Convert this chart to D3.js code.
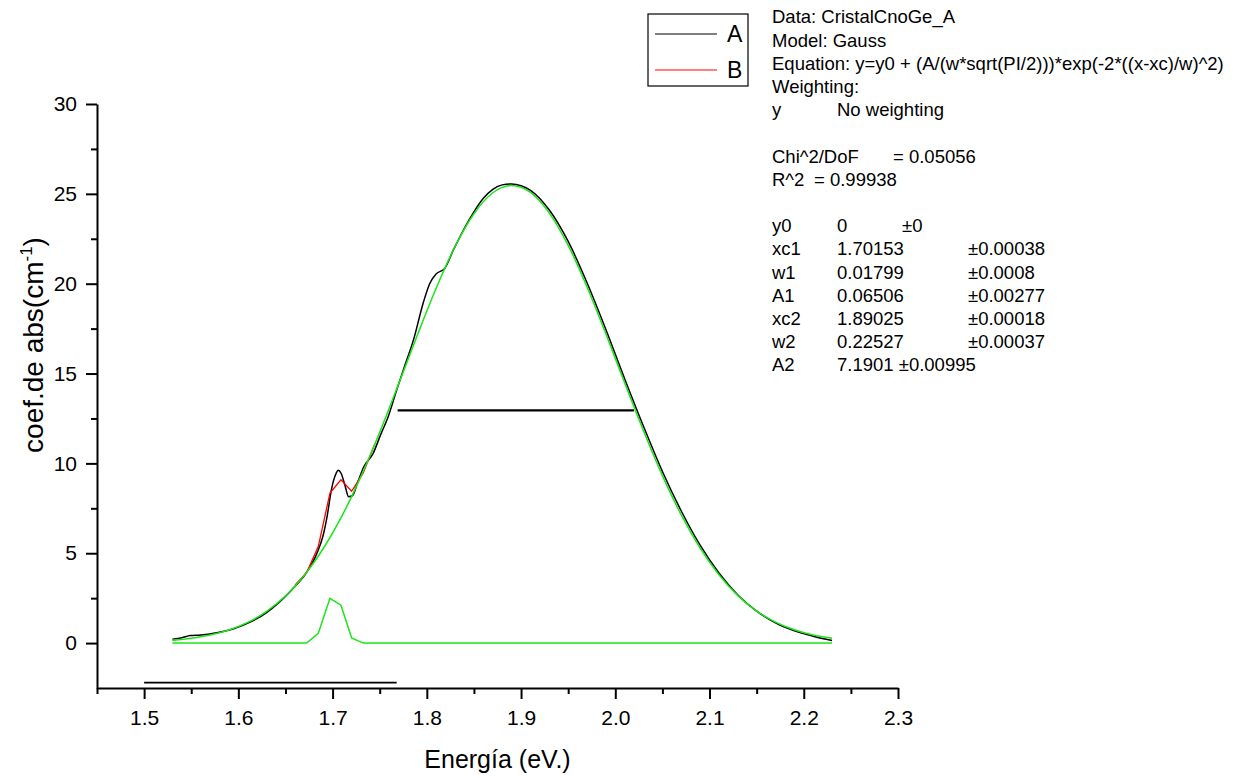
<!DOCTYPE html>
<html>
<head>
<meta charset="utf-8">
<script src="https://cdn.jsdelivr.net/npm/d3@7"></script>
<style>
  body { margin: 0; background: #fff; }
  svg { font-family: "Liberation Sans", Arial, sans-serif; }
</style>
</head>
<body>
<div id="chart"></div>
<script>
const dataX = [1.530,1.540,1.549,1.560,1.577,1.595,1.612,1.630,1.648,1.660,1.672,1.683,1.690,1.694,1.699,1.703,1.706,1.709,1.713,1.717,1.721,1.727,1.733,1.743,1.751,1.759,1.768,1.777,1.786,1.796,1.803,1.810,1.819,1.828,1.840,1.850,1.860,1.870,1.880,1.890,1.900,1.910,1.930,1.950,1.970,1.990,2.010,2.030,2.050,2.070,2.090,2.110,2.130,2.150,2.170,2.190,2.210,2.230]
const dataY = [0.22,0.30,0.42,0.45,0.58,0.80,1.15,1.70,2.50,3.15,3.90,4.95,6.00,7.00,8.60,9.35,9.62,9.45,8.80,8.15,8.20,9.00,9.80,10.55,11.60,12.60,14.08,15.50,16.90,18.90,20.00,20.55,20.85,21.85,23.10,24.00,24.75,25.25,25.50,25.55,25.45,25.20,24.10,22.35,20.05,17.45,14.70,12.05,9.55,7.35,5.45,3.90,2.68,1.78,1.12,0.68,0.38,0.14]

// cumulative fit (red), only where it shows
const cumX = [1.6602,1.6725,1.6848,1.6972,1.7089,1.7202,1.7325,1.7450]
const cumY = [3.23,3.92,5.37,8.35,9.09,8.45,9.47,11.10]

// big peak (green)
const peak2X = [1.53,1.55,1.57,1.59,1.61,1.63,1.65,1.67,1.69,1.71,1.73,1.75,1.77,1.79,1.81,1.83,1.85,1.87,1.89,1.91,1.93,1.95,1.97,1.99,2.01,2.03,2.05,2.07,2.09,2.11,2.13,2.15,2.17,2.19,2.21,2.23]
const peak2Y = [0.15,0.27,0.45,0.73,1.15,1.77,2.62,3.77,5.25,7.08,9.26,11.73,14.41,17.14,19.76,22.07,23.89,25.06,25.47,25.08,23.93,22.13,19.82,17.21,14.47,11.80,9.32,7.13,5.29,3.80,2.64,1.78,1.17,0.74,0.45,0.27]

// small peak (green)
const peak1X = [1.53,1.6725,1.6848,1.6972,1.7089,1.7202,1.7325,2.23]
const peak1Y = [0,0,0.54,2.49,2.11,0.29,0,0]

// FWHM marker and the short line under the curve
const fwhmX = [1.769, 2.0198]
const fwhmY = 12.95
const baseX = [1.5, 1.768]
const baseY = -2.2

const xTicks = [1.5,1.6,1.7,1.8,1.9,2.0,2.1,2.2,2.3]
const xMinor = [1.45,1.55,1.65,1.75,1.85,1.95,2.05,2.15,2.25]
const yTicks = [0,5,10,15,20,25,30]
const yMinor = [2.5,7.5,12.5,17.5,22.5,27.5]

const legendLabels = ['A','B']
const legendColors = ['#000','#ff0000']

const infoLines = [
  ['Data: CristalCnoGe_A'],
  ['Model: Gauss'],
  ['Equation: y=y0 + (A/(w*sqrt(PI/2)))*exp(-2*((x-xc)/w)^2)'],
  ['Weighting:'],
  ['y', 'No weighting'],
  [],
  ['Chi^2/DoF', '= 0.05056'],
  ['R^2', '=  0.99938'],
  [],
  ['y0', '0', '±0'],
  ['xc1', '1.70153', '±0.00038'],
  ['w1', '0.01799', '±0.0008'],
  ['A1', '0.06506', '±0.00277'],
  ['xc2', '1.89025', '±0.00018'],
  ['w2', '0.22527', '±0.00037'],
  ['A2', '7.1901 ±0.00995']
]

const W = 1241, H = 778
const x0 = 97, x1 = 898, yTop = 104, yBot = 688

const svg = d3.select('#chart').append('svg')
  .attr('width', W).attr('height', H)

const x = d3.scaleLinear().domain([1.45, 2.3]).range([x0, x1])
const y = d3.scaleLinear().domain([-2.5, 30]).range([yBot, yTop])

const green = '#19e619'

// curves
const toPts = (xs, ys) => xs.map((v, i) => [v, ys[i]])
const smooth = d3.line().x(d => x(d[0])).y(d => y(d[1])).curve(d3.curveMonotoneX)
const straight = d3.line().x(d => x(d[0])).y(d => y(d[1]))

svg.append('path').attr('d', smooth(toPts(dataX, dataY)))
  .attr('fill', 'none').attr('stroke', '#000').attr('stroke-width', 1.5)
svg.append('path').attr('d', straight(toPts(cumX, cumY)))
  .attr('fill', 'none').attr('stroke', '#ff0000').attr('stroke-width', 1.3)
svg.append('path').attr('d', smooth(toPts(peak2X, peak2Y)))
  .attr('fill', 'none').attr('stroke', green).attr('stroke-width', 1.5)
svg.append('path').attr('d', straight(toPts(peak1X, peak1Y)))
  .attr('fill', 'none').attr('stroke', green).attr('stroke-width', 1.5)

// horizontal markers
svg.append('line')
  .attr('x1', x(fwhmX[0])).attr('x2', x(fwhmX[1]))
  .attr('y1', y(fwhmY)).attr('y2', y(fwhmY))
  .attr('stroke', '#000').attr('stroke-width', 2.2)
svg.append('line')
  .attr('x1', x(baseX[0])).attr('x2', x(baseX[1]))
  .attr('y1', y(baseY)).attr('y2', y(baseY))
  .attr('stroke', '#000').attr('stroke-width', 1.8)

// axes
const xAxis = svg.append('g').attr('transform', `translate(0,${yBot})`)
xAxis.call(d3.axisBottom(x).tickValues(xTicks).tickSize(11).tickSizeOuter(0).tickFormat(d3.format('.1f')))
svg.append('g').attr('transform', `translate(0,${yBot})`)
  .call(d3.axisBottom(x).tickValues(xMinor).tickSize(6).tickSizeOuter(0).tickFormat(''))
  .select('.domain').remove()

const yAxis = svg.append('g').attr('transform', `translate(${x0},0)`)
yAxis.call(d3.axisLeft(y).tickValues(yTicks).tickSize(11).tickSizeOuter(0))
svg.append('g').attr('transform', `translate(${x0},0)`)
  .call(d3.axisLeft(y).tickValues(yMinor).tickSize(6).tickSizeOuter(0).tickFormat(''))
  .select('.domain').remove()

svg.selectAll('.domain, .tick line').attr('stroke', '#000').attr('stroke-width', 2)
xAxis.selectAll('.tick text').attr('font-size', 21).attr('y', 37).attr('dy', 0).attr('fill', '#000')
  .attr('font-family', '"Liberation Sans", Arial, sans-serif')
yAxis.selectAll('.tick text').attr('font-size', 21).attr('x', -20).attr('fill', '#000')
  .attr('font-family', '"Liberation Sans", Arial, sans-serif')

// axis titles
svg.append('text').attr('x', (x0 + x1) / 2).attr('y', 768)
  .attr('text-anchor', 'middle').attr('font-size', 25).text('Energía (eV.)')

const yl = svg.append('text')
  .attr('transform', `translate(43,345) rotate(-90)`)
  .attr('text-anchor', 'middle').attr('font-size', 28)
yl.append('tspan').text('coef.de abs(cm')
yl.append('tspan').attr('font-size', 17).attr('dy', -11).text('-1')
yl.append('tspan').attr('dy', 11).text(')')

// legend
const lg = svg.append('g')
lg.append('rect').attr('x', 648).attr('y', 14).attr('width', 100).attr('height', 72)
  .attr('fill', 'none').attr('stroke', '#000').attr('stroke-width', 1.2)
legendLabels.forEach((lab, i) => {
  const ly = 34 + i * 36
  lg.append('line').attr('x1', 655).attr('x2', 717).attr('y1', ly).attr('y2', ly)
    .attr('stroke', legendColors[i]).attr('stroke-width', 1.2)
  lg.append('text').attr('x', 727).attr('y', ly + 8).attr('font-size', 23).text(lab)
})

// fit report
const info = svg.append('g').attr('font-size', 18.5)
infoLines.forEach((row, i) => {
  const ty = 17 + i * 23.2
  let cols = [772, 837, 968]
  if (row[0] === 'y') cols = [772, 837]
  if (row[0] === 'Chi^2/DoF') cols = [772, 893]
  if (row[0] === 'R^2') cols = [772, 814]
  if (row[0] === 'y0') cols = [772, 837, 902]
  row.forEach((t, j) => {
    info.append('text').attr('x', cols[j]).attr('y', ty).attr('dy', '0.35em').text(t)
  })
})
</script>
</body>
</html>
